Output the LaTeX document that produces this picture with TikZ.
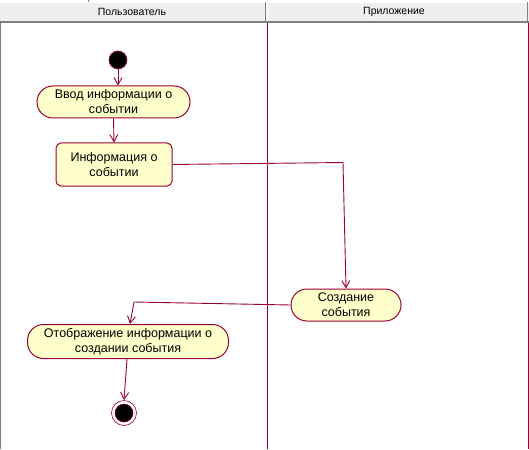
\documentclass[tikz,border=0pt]{standalone}
\usepackage{fontspec}
\setmainfont{Liberation Sans}
\usetikzlibrary{arrows.meta}
\definecolor{umlred}{RGB}{153,0,51}
\definecolor{umlfill}{RGB}{255,255,204}
\definecolor{hdrgray}{RGB}{239,239,239}
\definecolor{hdrline}{RGB}{128,128,128}
\tikzset{
  act/.style={draw=umlred, fill=umlfill, line width=1pt, rounded corners=16pt,
    inner sep=0pt, align=center, font=\fontsize{12.5}{15}\selectfont},
  objbox/.style={draw=umlred, fill=umlfill, line width=1pt, rounded corners=5pt,
    inner sep=0pt, align=center, font=\fontsize{12.5}{15}\selectfont},
  arr/.style={draw=umlred, line width=0.9pt, -{Straight Barb[length=7pt,width=8pt]}},
  conn/.style={draw=umlred, line width=0.9pt},
  hdr/.style={font=\fontsize{10.5}{12}\selectfont, inner sep=0pt}
}
\begin{document}
\begin{tikzpicture}[x=1pt,y=-1pt]
\useasboundingbox (0,0) rectangle (529,449);
% header
\fill[white] (0,0) rectangle (529,449);
\fill[hdrgray] (0,2) rectangle (529,21);
\draw[white, line width=1pt] (0,2.5) -- (529,2.5);
\fill[hdrline] (0,21) rectangle (529,23.5);
\draw[hdrline, line width=1.2pt] (265.5,2) -- (265.5,21);
\draw[white, line width=1pt] (267.5,2) -- (267.5,21);
\draw[hdrline, line width=1.2pt] (527.5,2) -- (527.5,21);
\draw[hdrline, line width=0.8pt] (88,0) -- (88,2);
\node[hdr] (h1) at (132,12) {Пользователь};
\node[hdr] (h2) at (394,12) {Приложение};
% lane borders
\draw[hdrline, line width=1.5pt] (0.5,23) -- (0.5,449);
\draw[umlred, line width=1pt] (267,23.5) -- (267,449);
\draw[umlred, line width=1.2pt] (528.3,23.5) -- (528.3,449);
% nodes
\node[circle, fill=black, draw=umlred, line width=0.6pt, minimum size=18pt, inner sep=0pt] (start) at (118,60) {};
\node[act, minimum width=153pt, minimum height=32pt] (vvod) at (113.5,102) {Ввод информации о\\событии};
\node[objbox, minimum width=116pt, minimum height=43pt] (info) at (114,164.5) {Информация о\\событии};
\node[act, minimum width=110pt, minimum height=32pt] (sozd) at (346,305) {Создание\\события};
\node[act, minimum width=201pt, minimum height=34pt] (otob) at (128,341.5) {Отображение информации о\\создании события};
\node[circle, draw=umlred, line width=0.6pt, minimum size=25pt, inner sep=0pt] (final) at (124,413) {};
\node[circle, fill=black, draw=umlred, line width=0.6pt, minimum size=18pt, inner sep=0pt] (finalin) at (124,413) {};
% connectors
\coordinate (c1) at (343,162.5);
\coordinate (c2) at (134,302);
\draw[arr] (start.south) -- (vvod.north -| start.south);
\draw[arr] (vvod.south) -- (info.north);
\draw[conn] (info.east) -- (c1);
\draw[arr] (c1) -- (sozd.north);
\draw[conn] (sozd.west) -- (c2);
\draw[arr] (c2) -- ([xshift=2pt]otob.north);
\draw[arr] ([xshift=-1pt]otob.south) -- (final.north);
\end{tikzpicture}
\end{document}
